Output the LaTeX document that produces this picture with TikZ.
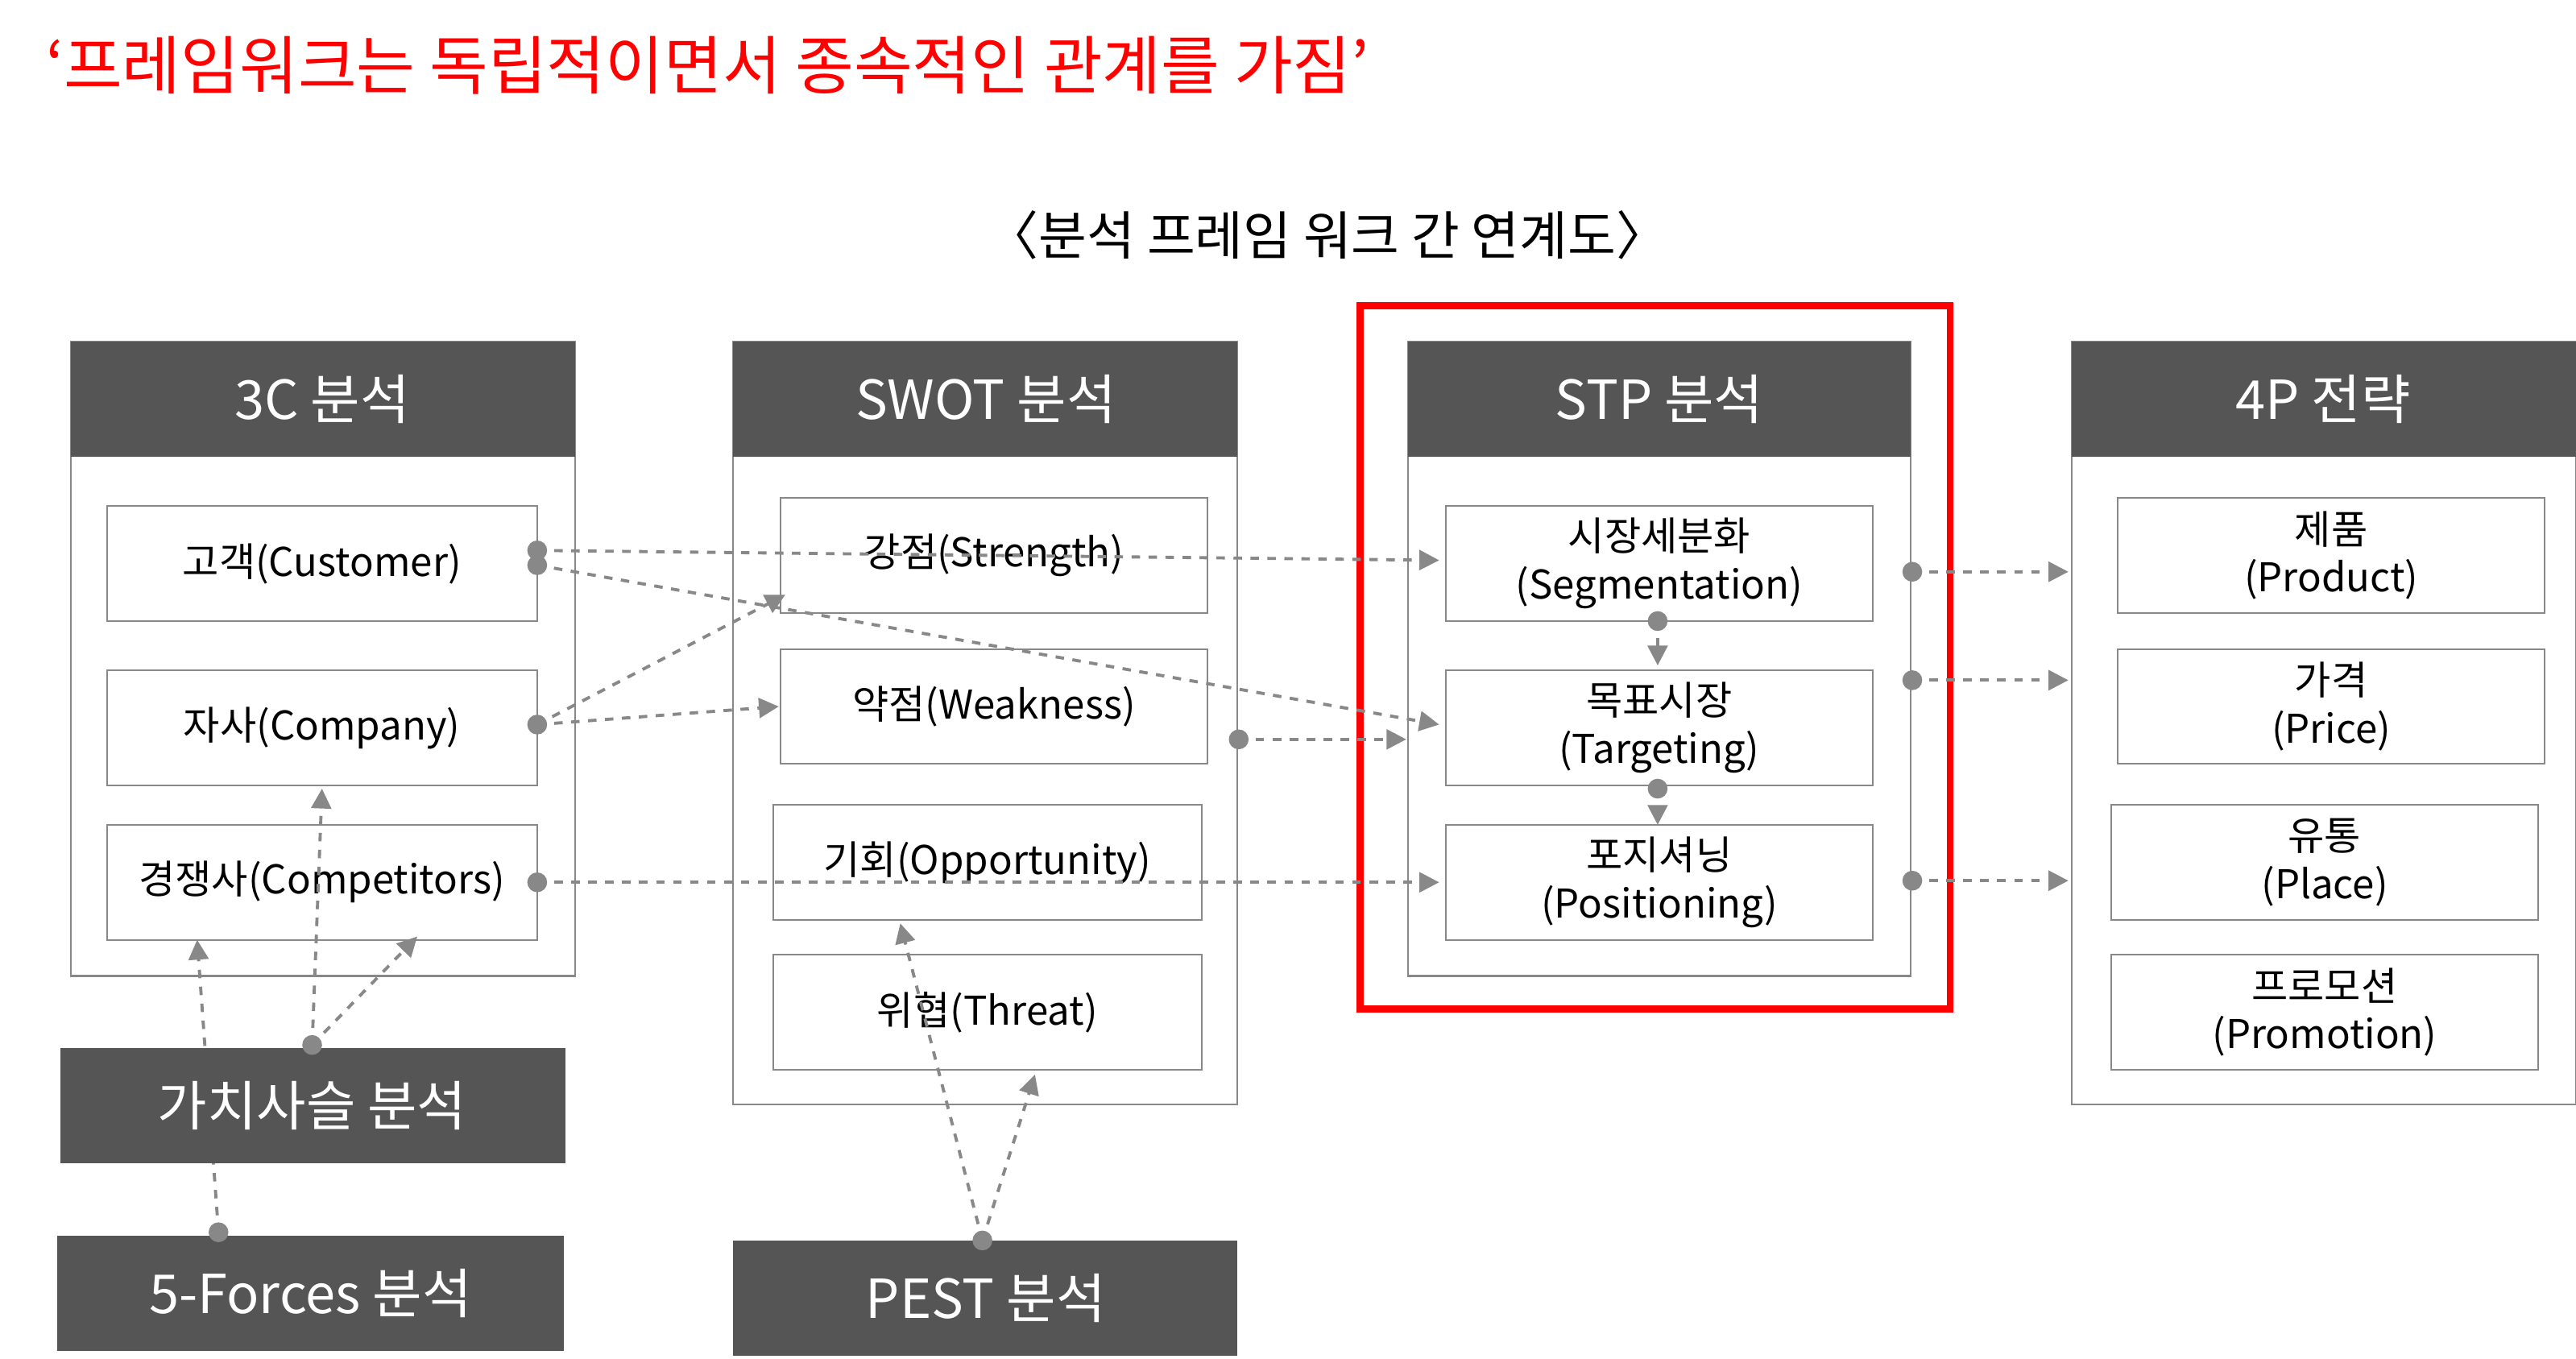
\documentclass[tikz,border=0pt]{standalone}
\usepackage{fontspec}
\setmainfont{Noto Sans CJK KR}
\usetikzlibrary{arrows.meta}
\definecolor{hdr}{HTML}{555555}
\definecolor{ln}{HTML}{888888}
\begin{document}
\begin{tikzpicture}[x=0.0204cm,y=-0.0204cm,
  panel/.style={draw=ln,line width=0.6pt},
  hdrbox/.style={draw=none,text=white,font=\fontsize{19}{21}\selectfont},
  itembox/.style={draw=ln,line width=0.6pt,fill=white,font=\fontsize{14}{17}\selectfont,align=center},
  conn/.style={draw=ln,dashed,line width=1.1pt,-{Triangle[length=7pt,width=7pt]}},
  dotn/.style={circle,fill=ln,inner sep=0pt,minimum size=7pt}]
\useasboundingbox (0,0) rectangle (1568,827);
% title
\node[anchor=west,text=red,font=\fontsize{22.5}{25}\selectfont] (title) at (22,40) {‘프레임워크는 독립적이면서 종속적인 관계를 가짐’};
\node[font=\fontsize{18.5}{20}\selectfont] (sub) at (808,143) {〈분석 프레임 워크 간 연계도〉};
\draw[red,line width=2.5pt] (828,186) rectangle (1187,614);
% panels
\draw[panel] (43,208) rectangle (350,594);
\draw[panel] (446,208) rectangle (753,672);
\draw[panel] (857,208) rectangle (1163,594);
\draw[panel] (1261,208) rectangle (1568,672);
\path[fill=hdr] (43,208) rectangle (350,278);
\path[fill=hdr] (446,208) rectangle (753,278);
\path[fill=hdr] (857,208) rectangle (1163,278);
\path[fill=hdr] (1261,208) rectangle (1568,278);
\node[hdrbox] (h3c) at (196,243) {3C 분석};
\node[hdrbox] (hsw) at (600,243) {SWOT 분석};
\node[hdrbox] (hstp) at (1010,243) {STP 분석};
\node[hdrbox] (h4p) at (1414,243) {4P 전략};
% items
\newcommand{\itm}[5]{\node[itembox,minimum width=#4*0.0204cm,minimum height=70*0.0204cm] (#1) at (#2,#3) {#5};}
\itm{cus}{196}{343}{262}{고객(Customer)}
\itm{com}{196}{443}{262}{자사(Company)}
\itm{cmp}{196}{537}{262}{경쟁사(Competitors)}
\itm{str}{605}{338}{260}{강점(Strength)}
\itm{wea}{605}{430}{260}{약점(Weakness)}
\itm{opp}{601}{525}{261}{기회(Opportunity)}
\itm{thr}{601}{616}{261}{위협(Threat)}
\itm{seg}{1010}{343}{260}{시장세분화\\(Segmentation)}
\itm{tar}{1010}{443}{260}{목표시장\\(Targeting)}
\itm{pos}{1010}{537}{260}{포지셔닝\\(Positioning)}
\itm{pro}{1419}{338}{260}{제품\\(Product)}
\itm{pri}{1419}{430}{260}{가격\\(Price)}
\itm{pla}{1415}{525}{260}{유통\\(Place)}
\itm{prm}{1415}{616}{260}{프로모션\\(Promotion)}
% coordinates for dots
\coordinate (d1) at (327,335);
\coordinate (d2) at (327,344);
\coordinate (d3) at (327,441);
\coordinate (d4) at (327,537);
\coordinate (d5) at (754,450);
\coordinate (d6) at (1009,378);
\coordinate (d7) at (1009,480);
\coordinate (d8) at (1164,348);
\coordinate (d9) at (1164,414);
\coordinate (d10) at (1164,536);
\coordinate (d11) at (190,636);
\coordinate (d12) at (133,750);
\coordinate (d13) at (598,755);
\coordinate (e1) at (876,341);
\coordinate (e2) at (876,441);
\coordinate (e3) at (478,362);
\coordinate (e4) at (474,430);
\coordinate (e5) at (856,450);
\coordinate (e6) at (876,537);
\coordinate (e7) at (1009,405);
\coordinate (e8) at (1009,502);
\coordinate (e9) at (1259,348);
\coordinate (e10) at (1259,414);
\coordinate (e11) at (1259,536);
\coordinate (e12) at (196,480);
\coordinate (e13) at (254,570);
\coordinate (e14) at (120,572);
\coordinate (e15) at (548,562);
\coordinate (e16) at (630,654);
\draw[conn] (d1) -- (e1);
\draw[conn] (d2) -- (e2);
\draw[conn] (d3) -- (e3);
\draw[conn] (d3) -- (e4);
\draw[conn] (d5) -- (e5);
\draw[conn] (d4) -- (e6);
\draw[conn] (d6) -- (e7);
\draw[conn] (d7) -- (e8);
\draw[conn] (d8) -- (e9);
\draw[conn] (d9) -- (e10);
\draw[conn] (d10) -- (e11);
\draw[conn] (d11) -- (e12);
\draw[conn] (d11) -- (e13);
\draw[conn] (d12) -- (e14);
\draw[conn] (d13) -- (e15);
\draw[conn] (d13) -- (e16);
% dark boxes
\path[fill=hdr] (37,638) rectangle (344,708);
\path[fill=hdr] (35,752) rectangle (343,822);
\path[fill=hdr] (446,755) rectangle (753,825);
\node[hdrbox] (vct) at (190,673) {가치사슬 분석};
\node[hdrbox] (ff) at (189,787) {5-Forces 분석};
\node[hdrbox] (pest) at (600,790) {PEST 분석};
% dots
\foreach \d in {d1,d2,d3,d4,d5,d6,d7,d8,d9,d10,d11,d12,d13}
  \node[dotn] (n\d) at (\d) {};
\end{tikzpicture}
\end{document}
